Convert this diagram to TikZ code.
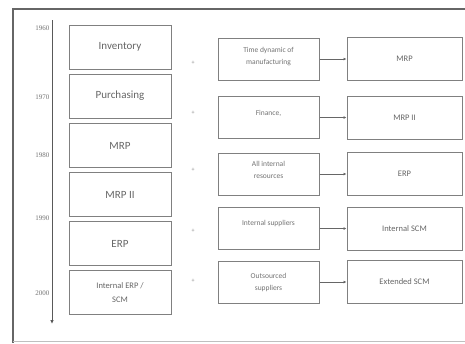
\documentclass[tikz,border=0pt]{standalone}
\usepackage{fontspec}
\setmainfont{Carlito}
\newfontfamily\yrfont{Liberation Serif}
\usetikzlibrary{arrows.meta}
\begin{document}
\begin{tikzpicture}[x=1pt,y=-1pt,
  box/.style={draw=black!50,line width=1pt,fill=white,inner sep=1pt,align=center,text=black!60},
  lbox/.style={box,minimum width=102pt,minimum height=44pt,font=\fontsize{11}{12}\selectfont},
  mbox/.style={box,minimum width=101pt,minimum height=42pt},
  rbox/.style={box,minimum width=115pt,minimum height=43pt,font=\fontsize{8.5}{10}\selectfont},
  mtext/.style={text=black!55,align=center,font=\fontsize{7.5}{12}\selectfont},
  yr/.style={anchor=east,text=black!55,font=\yrfont\fontsize{7}{8}\selectfont,inner sep=0pt},
  plus/.style={text=black!45,font=\fontsize{6}{6}\selectfont,inner sep=0pt},
  conn/.style={draw=black!60,line width=0.6pt,-{Latex[length=3pt,width=3pt]}}]
\useasboundingbox (0,0) rectangle (465,343);
\fill[white] (0,0) rectangle (465,343);
% frame
\draw[black!60,line width=2.2pt] (13,343) -- (13,9) -- (465,9);
\draw[black!25,line width=0.6pt] (13,341) -- (465,341);
% axis
\coordinate (axtop) at (52,20);
\coordinate (axbot) at (52,324);
\draw[black!65,line width=0.9pt,-{Latex[length=4pt,width=3.5pt]}] (axtop) -- (axbot);
\node[yr] (y60) at (49.5,28) {1960};
\node[yr] (y70) at (49.5,97) {1970};
\node[yr] (y80) at (49.5,155) {1980};
\node[yr] (y90) at (49.5,218) {1990};
\node[yr] (y00) at (49.5,293) {2000};
% left boxes
\node[lbox] (l1) at (120,47) {Inventory};
\node[lbox] (l2) at (120,96) {Purchasing};
\node[lbox] (l3) at (120,145.5) {MRP};
\node[lbox] (l4) at (120,194.5) {MRP II};
\node[lbox] (l5) at (120,243.5) {ERP};
\node[lbox,font=\fontsize{8.5}{14}\selectfont] (l6) at (120,292.5) {Internal ERP /\\SCM};
% plus signs
\node[plus] (p1) at (193,63) {+};
\node[plus] (p2) at (193,113) {+};
\node[plus] (p3) at (193,170) {+};
\node[plus] (p4) at (193,231) {+};
\node[plus] (p5) at (193,281) {+};
% middle boxes
\node[mbox] (m1) at (268.5,59) {};
\node[mbox] (m2) at (268.5,117.5) {};
\node[mbox] (m3) at (268.5,174) {};
\node[mbox] (m4) at (268.5,228.5) {};
\node[mbox] (m5) at (268.5,282) {};
\node[mtext] (t1) at (268.5,57) {Time dynamic of\\manufacturing};
\node[mtext] (t2) at (268.5,113) {Finance,};
\node[mtext] (t3) at (268.5,170) {All internal\\resources};
\node[mtext] (t4) at (268.5,223) {Internal suppliers};
\node[mtext] (t5) at (268.5,282) {Outsourced\\suppliers};
% right boxes
\node[rbox] (r1) at (404.5,59) {MRP};
\node[rbox] (r2) at (404.5,117.5) {MRP II};
\node[rbox] (r3) at (404.5,174) {ERP};
\node[rbox] (r4) at (404.5,228.5) {Internal SCM};
\node[rbox] (r5) at (404.5,282) {Extended SCM};
% connectors
\foreach \i in {1,...,5} {\draw[conn] (m\i) -- (r\i);}
\end{tikzpicture}
\end{document}
